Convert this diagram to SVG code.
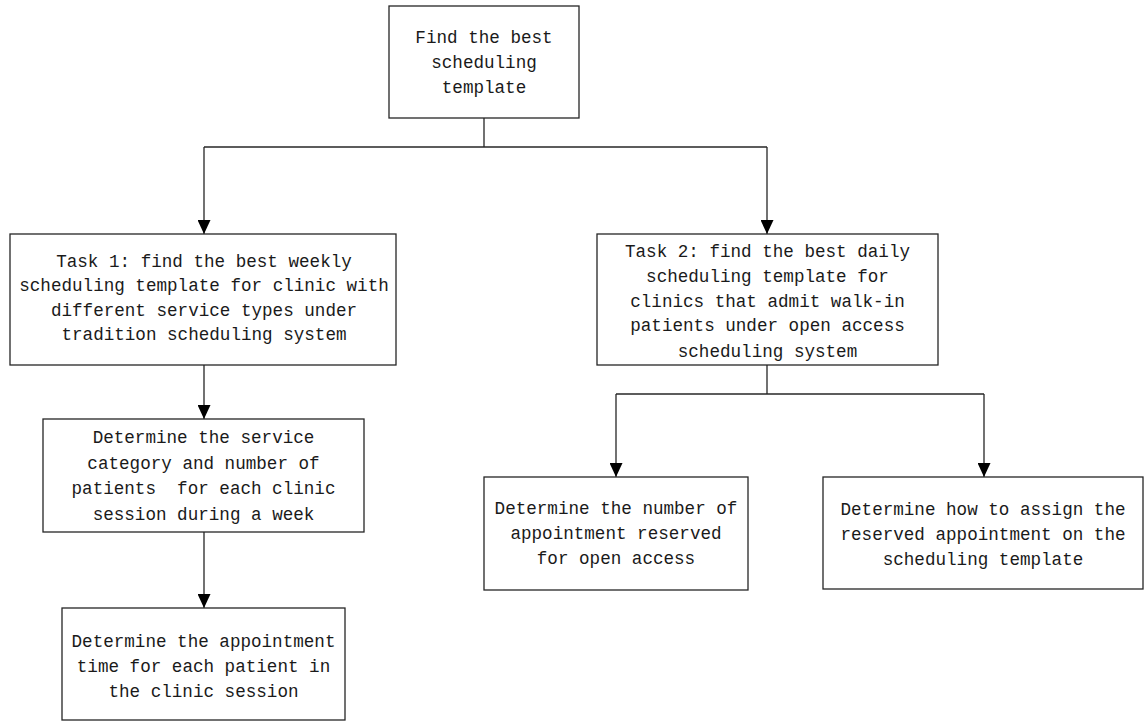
<svg xmlns="http://www.w3.org/2000/svg" width="1144" height="722" viewBox="0 0 1144 722">
<style>
.box{fill:#fff;stroke:#262626;stroke-width:1.3}
.t{font-family:"Liberation Mono","DejaVu Sans Mono",monospace;font-size:17.6px;fill:#1a1a1a;text-anchor:middle;white-space:pre}
.c{fill:none;stroke:#262626;stroke-width:1.3}
</style>
<defs>
<marker id="arr" viewBox="0 -6.5 14 13" refX="14" refY="0" markerWidth="14" markerHeight="13" markerUnits="userSpaceOnUse" orient="auto">
<path d="M0,-6.5 L14,0 L0,6.5 z" fill="#000"/>
</marker>
</defs>
<rect width="1144" height="722" fill="#fff"/>
<g id="connectors">
<path class="c" d="M484,118 V147"/>
<path class="c" d="M204,147 H767"/>
<path class="c" d="M204,147 V234" marker-end="url(#arr)"/>
<path class="c" d="M767,147 V234" marker-end="url(#arr)"/>
<path class="c" d="M204,365 V419" marker-end="url(#arr)"/>
<path class="c" d="M204,532 V608" marker-end="url(#arr)"/>
<path class="c" d="M767,365 V394"/>
<path class="c" d="M616,394 H984"/>
<path class="c" d="M616,394 V477" marker-end="url(#arr)"/>
<path class="c" d="M984,394 V477" marker-end="url(#arr)"/>
</g>
<g id="root">
<rect class="box" x="389" y="6" width="190" height="112"/>
<text class="t" x="484" y="43">Find the best</text>
<text class="t" x="484" y="68">scheduling</text>
<text class="t" x="484" y="93">template</text>
</g>
<g id="task1">
<rect class="box" x="10" y="234" width="386" height="131"/>
<text class="t" x="204" y="267">Task 1: find the best weekly</text>
<text class="t" x="204" y="291">scheduling template for clinic with</text>
<text class="t" x="204" y="316">different service types under</text>
<text class="t" x="204" y="340">tradition scheduling system</text>
</g>
<g id="task2">
<rect class="box" x="597" y="234" width="341" height="131"/>
<text class="t" x="767.5" y="257">Task 2: find the best daily</text>
<text class="t" x="767.5" y="282">scheduling template for</text>
<text class="t" x="767.5" y="307">clinics that admit walk-in</text>
<text class="t" x="767.5" y="331">patients under open access</text>
<text class="t" x="767.5" y="357">scheduling system</text>
</g>
<g id="service-category">
<rect class="box" x="43" y="419" width="321" height="113"/>
<text class="t" x="203.5" y="443">Determine the service</text>
<text class="t" x="203.5" y="469">category and number of</text>
<text class="t" x="203.5" y="494" xml:space="preserve">patients  for each clinic</text>
<text class="t" x="203.5" y="520">session during a week</text>
</g>
<g id="appointment-time">
<rect class="box" x="62" y="608" width="283" height="112"/>
<text class="t" x="203.5" y="647">Determine the appointment</text>
<text class="t" x="203.5" y="672">time for each patient in</text>
<text class="t" x="203.5" y="697">the clinic session</text>
</g>
<g id="reserved-number">
<rect class="box" x="484" y="477" width="264" height="113"/>
<text class="t" x="616" y="514">Determine the number of</text>
<text class="t" x="616" y="539">appointment reserved</text>
<text class="t" x="616" y="564">for open access</text>
</g>
<g id="reserved-assign">
<rect class="box" x="823" y="477" width="320" height="112"/>
<text class="t" x="983" y="515">Determine how to assign the</text>
<text class="t" x="983" y="540">reserved appointment on the</text>
<text class="t" x="983" y="565">scheduling template</text>
</g>
</svg>
